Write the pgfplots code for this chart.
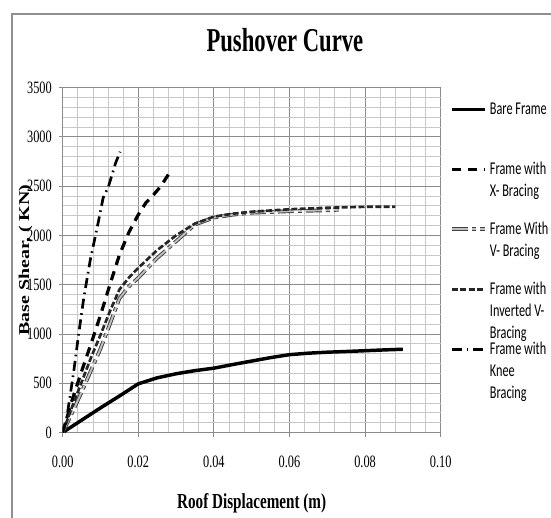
\documentclass[border=0pt]{standalone}
\usepackage{pgfplots}
\pgfplotsset{compat=1.18}
\usepackage{fontspec}
\setmainfont{Liberation Serif}
\newfontfamily\tickfont[FakeStretch=0.71]{Liberation Serif}
\newfontfamily\titlefont[FakeStretch=0.68]{Liberation Serif}
\newfontfamily\ylabfont[FakeStretch=1.33]{Liberation Serif}
\newfontfamily\legfont[FakeStretch=0.68]{Carlito}
\definecolor{majgrid}{HTML}{8C8C8C}
\definecolor{mingrid}{HTML}{C8C8C8}
\definecolor{chartframe}{HTML}{8F8F8F}
\newcommand{\legtxt}[1]{\smash{\begin{tabular}[t]{@{}l@{}}#1\end{tabular}}}
\begin{document}
\begin{tikzpicture}
\useasboundingbox (0,0) rectangle (413.25pt,388.5pt);
\draw[chartframe, line width=1.1pt] (9pt,0pt) -- (9pt,378pt) -- (413.25pt,378pt);
\begin{axis}[
  at={(47pt,64.1pt)}, anchor=south west,
  scale only axis, width=283.5pt, height=258.75pt,
  xmin=0, xmax=0.1, ymin=0, ymax=3500,
  xtick={0,0.02,0.04,0.06,0.08,0.1},
  ytick={0,500,1000,1500,2000,2500,3000,3500},
  minor x tick num=4, minor y tick num=4,
  grid=both,
  major grid style={majgrid, line width=0.6pt},
  minor grid style={mingrid, line width=0.5pt},
  axis x line*=bottom, axis y line*=left,
  axis line style={majgrid, line width=0.8pt, -},
  tick align=outside,
  major tick length=3pt, minor tick length=0pt,
  tick style={majgrid, line width=0.6pt},
  /pgf/number format/assume math mode=true,
  /pgf/number format/1000 sep={},
  ticklabel style={font=\tickfont\fontsize{13}{15}\selectfont},
  xticklabel style={/pgf/number format/.cd, fixed, fixed zerofill, precision=2, /tikz/.cd, anchor=base, inner sep=0pt, yshift=-23pt},
  yticklabel style={anchor=east, inner sep=0pt, xshift=-5pt},
  title={\titlefont\bfseries\fontsize{25}{30}\selectfont Pushover Curve},
  title style={at={(0.588,1.0826)}, anchor=base, inner sep=0pt},
  xlabel={Roof Displacement (m)},
  xlabel style={at={(0.5,-0.219)}, anchor=base, inner sep=0pt, font=\tickfont\bfseries\fontsize{16}{19}\selectfont},
  ylabel={Base Shear, ( KN)},
  ylabel style={at={(-0.0984,0.5)}, anchor=center, inner sep=0pt, font=\ylabfont\bfseries\fontsize{11.25}{13}\selectfont},
  legend style={at={(1.0246,0.9617)}, anchor=north west, draw=none, fill=none, inner sep=0pt, row sep=0pt, column sep=2.25pt,
    font=\legfont\fontsize{13.5}{16.5}\selectfont, cells={anchor=base west}, nodes={inner sep=0pt}},
  legend image code/.code={\path[draw=none, fill=none, double=none] (0pt,10pt) -- (0pt,-35pt); \draw[#1] (0pt,3.8pt) -- (24.75pt,3.8pt);},
]
\addplot[black, line width=2.6pt, line join=round] coordinates {
(0,0) (0.002,50) (0.005,125) (0.01,250) (0.015,370) (0.02,494) (0.025,555) (0.03,596) (0.035,628) (0.04,653) (0.045,690) (0.05,725) (0.055,760) (0.06,790) (0.065,805) (0.07,815) (0.075,822) (0.08,830) (0.085,838) (0.09,845)
};
\addlegendentry{\legtxt{Bare Frame}}
\addplot[black, line width=2.4pt, dash pattern=on 7pt off 5pt] coordinates {
(0,0) (0.0025,330) (0.005,620) (0.0075,900) (0.01,1190) (0.0125,1500) (0.015,1800) (0.0175,2030) (0.02,2210) (0.022,2330) (0.024,2410) (0.026,2500) (0.028,2620)
};
\addlegendentry{\legtxt{Frame with\\X- Bracing}}
\addplot[black!75, line width=0.7pt, double=black!25, double distance=1.4pt, dash pattern=on 12pt off 3pt on 3pt off 3pt] coordinates {
(0,0) (0.0025,200) (0.005,410) (0.0075,630) (0.01,850) (0.0125,1100) (0.015,1360) (0.0175,1480) (0.02,1570) (0.025,1770) (0.03,1940) (0.035,2110) (0.04,2180) (0.045,2210) (0.05,2230) (0.06,2245) (0.07,2255) (0.073,2260)
};
\addlegendentry{\legtxt{Frame With\\V- Bracing}}
\addplot[black!85, line width=2pt, dash pattern=on 4.5pt off 1.8pt] coordinates {
(0,0) (0.0025,260) (0.005,510) (0.0075,760) (0.01,990) (0.0125,1230) (0.015,1450) (0.0175,1570) (0.02,1670) (0.025,1850) (0.03,2000) (0.035,2120) (0.04,2190) (0.045,2220) (0.05,2240) (0.06,2265) (0.07,2280) (0.08,2290) (0.088,2290)
};
\addlegendentry{\legtxt{Frame with\\Inverted V-\\Bracing}}
\addplot[black, line width=2pt, dash pattern=on 7.5pt off 3.5pt on 1.2pt off 3.5pt] coordinates {
(0,0) (0.001,130) (0.002,380) (0.003,640) (0.0042,990) (0.0056,1370) (0.0073,1750) (0.0094,2130) (0.0107,2380) (0.0121,2494) (0.014,2734) (0.0152,2849)
};
\addlegendentry{\legtxt{Frame with\\Knee\\Bracing}}
\end{axis}
\end{tikzpicture}
\end{document}
